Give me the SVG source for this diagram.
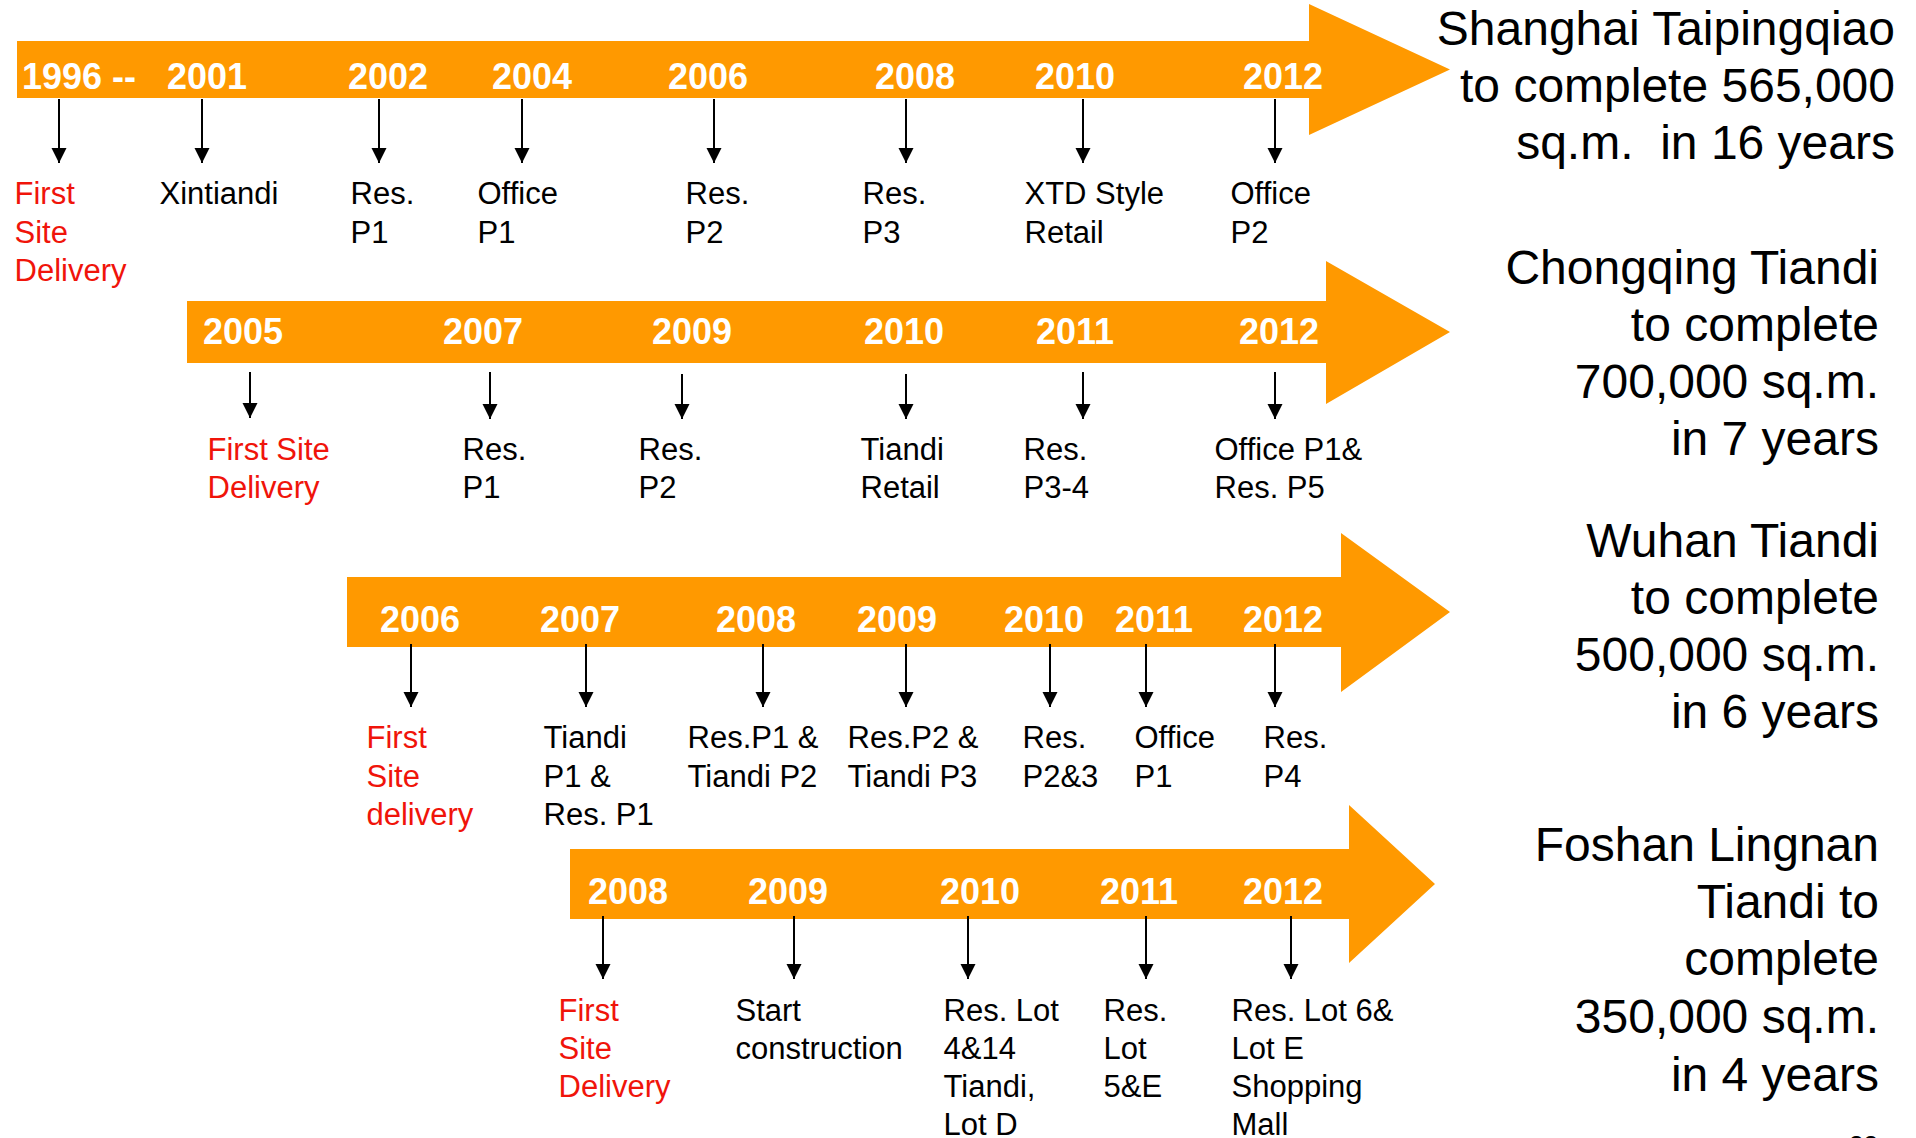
<svg xmlns="http://www.w3.org/2000/svg" width="1916" height="1138" viewBox="0 0 1916 1138">
<defs>
<marker id="ah" markerUnits="userSpaceOnUse" markerWidth="16" markerHeight="16" refX="15" refY="7.5" orient="auto">
<path d="M0,0 L15,7.5 L0,15 z" fill="#000"/>
</marker>
<style>
.band{fill:#FF9900;}
.yr{font-family:"Liberation Sans",Arial,sans-serif;font-weight:bold;font-size:36px;fill:#fff;}
.lb{font-family:"Liberation Sans",Arial,sans-serif;font-size:31px;fill:#000;}
.red{fill:#F0140A;}
.ttl{font-family:"Liberation Sans",Arial,sans-serif;font-size:48px;fill:#000;text-anchor:end;}
.pg{font-family:"Liberation Sans",Arial,sans-serif;font-size:26px;fill:#000;text-anchor:end;}
.con line{stroke:#000;stroke-width:2;marker-end:url(#ah);}
</style>
</defs>
<rect width="1916" height="1138" fill="#fff"/>

<g id="arrow-shanghai">
<polygon class="band" points="17,41 1309,41 1309,4 1450,69.5 1309,135 1309,98 17,98"/>
<text class="yr" x="22" y="89">1996 --</text>
<text class="yr" x="167" y="89">2001</text>
<text class="yr" x="348" y="89">2002</text>
<text class="yr" x="492" y="89">2004</text>
<text class="yr" x="668" y="89">2006</text>
<text class="yr" x="875" y="89">2008</text>
<text class="yr" x="1035" y="89">2010</text>
<text class="yr" x="1243" y="89">2012</text>
</g>
<g id="arrow-chongqing">
<polygon class="band" points="187,301 1326,301 1326,261 1450,332 1326,404 1326,363 187,363"/>
<text class="yr" x="203" y="344">2005</text>
<text class="yr" x="443" y="344">2007</text>
<text class="yr" x="652" y="344">2009</text>
<text class="yr" x="864" y="344">2010</text>
<text class="yr" x="1036" y="344">2011</text>
<text class="yr" x="1239" y="344">2012</text>
</g>
<g id="arrow-wuhan">
<polygon class="band" points="347,577 1341,577 1341,533 1450,612 1341,692 1341,647 347,647"/>
<text class="yr" x="380" y="632">2006</text>
<text class="yr" x="540" y="632">2007</text>
<text class="yr" x="716" y="632">2008</text>
<text class="yr" x="857" y="632">2009</text>
<text class="yr" x="1004" y="632">2010</text>
<text class="yr" x="1115" y="632">2011</text>
<text class="yr" x="1243" y="632">2012</text>
</g>
<g id="arrow-foshan">
<polygon class="band" points="570,849 1349,849 1349,805 1435,884 1349,963 1349,919 570,919"/>
<text class="yr" x="588" y="904">2008</text>
<text class="yr" x="748" y="904">2009</text>
<text class="yr" x="940" y="904">2010</text>
<text class="yr" x="1100" y="904">2011</text>
<text class="yr" x="1243" y="904">2012</text>
</g>

<g id="connectors" class="con">
<line x1="59" y1="99" x2="59" y2="163"/>
<line x1="202" y1="99" x2="202" y2="163"/>
<line x1="379" y1="99" x2="379" y2="163"/>
<line x1="522" y1="99" x2="522" y2="163"/>
<line x1="714" y1="99" x2="714" y2="163"/>
<line x1="906" y1="99" x2="906" y2="163"/>
<line x1="1083" y1="99" x2="1083" y2="163"/>
<line x1="1275" y1="99" x2="1275" y2="163"/>

<line x1="250" y1="372" x2="250" y2="418"/>
<line x1="490" y1="372" x2="490" y2="419"/>
<line x1="682" y1="374" x2="682" y2="419"/>
<line x1="906" y1="374" x2="906" y2="419"/>
<line x1="1083" y1="372" x2="1083" y2="419"/>
<line x1="1275" y1="372" x2="1275" y2="419"/>

<line x1="411" y1="644" x2="411" y2="707"/>
<line x1="586" y1="644" x2="586" y2="707"/>
<line x1="763" y1="644" x2="763" y2="707"/>
<line x1="906" y1="644" x2="906" y2="707"/>
<line x1="1050" y1="644" x2="1050" y2="707"/>
<line x1="1146" y1="644" x2="1146" y2="707"/>
<line x1="1275" y1="644" x2="1275" y2="707"/>

<line x1="603" y1="916" x2="603" y2="979"/>
<line x1="794" y1="916" x2="794" y2="979"/>
<line x1="968" y1="916" x2="968" y2="979"/>
<line x1="1146" y1="916" x2="1146" y2="979"/>
<line x1="1291" y1="916" x2="1291" y2="979"/>
</g>

<g id="labels-shanghai">
<text class="lb red"><tspan x="14.5" y="204">First</tspan><tspan x="14.5" y="243">Site</tspan><tspan x="14.5" y="281">Delivery</tspan></text>
<text class="lb" x="159.5" y="204">Xintiandi</text>
<text class="lb"><tspan x="350.5" y="204">Res.</tspan><tspan x="350.5" y="243">P1</tspan></text>
<text class="lb"><tspan x="477.5" y="204">Office</tspan><tspan x="477.5" y="243">P1</tspan></text>
<text class="lb"><tspan x="685.5" y="204">Res.</tspan><tspan x="685.5" y="243">P2</tspan></text>
<text class="lb"><tspan x="862.5" y="204">Res.</tspan><tspan x="862.5" y="243">P3</tspan></text>
<text class="lb"><tspan x="1024.5" y="204">XTD Style</tspan><tspan x="1024.5" y="243">Retail</tspan></text>
<text class="lb"><tspan x="1230.5" y="204">Office</tspan><tspan x="1230.5" y="243">P2</tspan></text>
</g>
<g id="labels-chongqing">
<text class="lb red"><tspan x="207.5" y="460">First Site</tspan><tspan x="207.5" y="498">Delivery</tspan></text>
<text class="lb"><tspan x="462.5" y="460">Res.</tspan><tspan x="462.5" y="498">P1</tspan></text>
<text class="lb"><tspan x="638.5" y="460">Res.</tspan><tspan x="638.5" y="498">P2</tspan></text>
<text class="lb"><tspan x="860.5" y="460">Tiandi</tspan><tspan x="860.5" y="498">Retail</tspan></text>
<text class="lb"><tspan x="1023.5" y="460">Res.</tspan><tspan x="1023.5" y="498">P3-4</tspan></text>
<text class="lb"><tspan x="1214.5" y="460">Office P1&amp;</tspan><tspan x="1214.5" y="498">Res. P5</tspan></text>
</g>
<g id="labels-wuhan">
<text class="lb red"><tspan x="366.5" y="748">First</tspan><tspan x="366.5" y="787">Site</tspan><tspan x="366.5" y="825">delivery</tspan></text>
<text class="lb"><tspan x="543.5" y="748">Tiandi</tspan><tspan x="543.5" y="787">P1 &amp;</tspan><tspan x="543.5" y="825">Res. P1</tspan></text>
<text class="lb"><tspan x="687.5" y="748">Res.P1 &amp;</tspan><tspan x="687.5" y="787">Tiandi P2</tspan></text>
<text class="lb"><tspan x="847.5" y="748">Res.P2 &amp;</tspan><tspan x="847.5" y="787">Tiandi P3</tspan></text>
<text class="lb"><tspan x="1022.5" y="748">Res.</tspan><tspan x="1022.5" y="787">P2&amp;3</tspan></text>
<text class="lb"><tspan x="1134.5" y="748">Office</tspan><tspan x="1134.5" y="787">P1</tspan></text>
<text class="lb"><tspan x="1263.5" y="748">Res.</tspan><tspan x="1263.5" y="787">P4</tspan></text>
</g>
<g id="labels-foshan">
<text class="lb red"><tspan x="558.5" y="1021">First</tspan><tspan x="558.5" y="1059">Site</tspan><tspan x="558.5" y="1097">Delivery</tspan></text>
<text class="lb"><tspan x="735.5" y="1021">Start</tspan><tspan x="735.5" y="1059">construction</tspan></text>
<text class="lb"><tspan x="943.5" y="1021">Res. Lot</tspan><tspan x="943.5" y="1059">4&amp;14</tspan><tspan x="943.5" y="1097">Tiandi,</tspan><tspan x="943.5" y="1135">Lot D</tspan></text>
<text class="lb"><tspan x="1103.5" y="1021">Res.</tspan><tspan x="1103.5" y="1059">Lot</tspan><tspan x="1103.5" y="1097">5&amp;E</tspan></text>
<text class="lb"><tspan x="1231.5" y="1021">Res. Lot 6&amp;</tspan><tspan x="1231.5" y="1059">Lot E</tspan><tspan x="1231.5" y="1097">Shopping</tspan><tspan x="1231.5" y="1135">Mall</tspan></text>
</g>

<g id="title-shanghai">
<text class="ttl" xml:space="preserve"><tspan x="1895" y="44.5">Shanghai Taipingqiao</tspan><tspan x="1895" y="101.5">to complete 565,000</tspan><tspan x="1895" y="158.5">sq.m.  in 16 years</tspan></text>
</g>
<g id="title-chongqing">
<text class="ttl"><tspan x="1879" y="284">Chongqing Tiandi</tspan><tspan x="1879" y="341">to complete</tspan><tspan x="1879" y="398">700,000 sq.m.</tspan><tspan x="1879" y="455">in 7 years</tspan></text>
</g>
<g id="title-wuhan">
<text class="ttl"><tspan x="1879" y="557">Wuhan Tiandi</tspan><tspan x="1879" y="614">to complete</tspan><tspan x="1879" y="671">500,000 sq.m.</tspan><tspan x="1879" y="728">in 6 years</tspan></text>
</g>
<g id="title-foshan">
<text class="ttl"><tspan x="1879" y="861">Foshan Lingnan</tspan><tspan x="1879" y="918">Tiandi to</tspan><tspan x="1879" y="975">complete</tspan><tspan x="1879" y="1033">350,000 sq.m.</tspan><tspan x="1879" y="1091">in 4 years</tspan></text>
</g>
<text class="pg" x="1878" y="1154">22</text>
</svg>
